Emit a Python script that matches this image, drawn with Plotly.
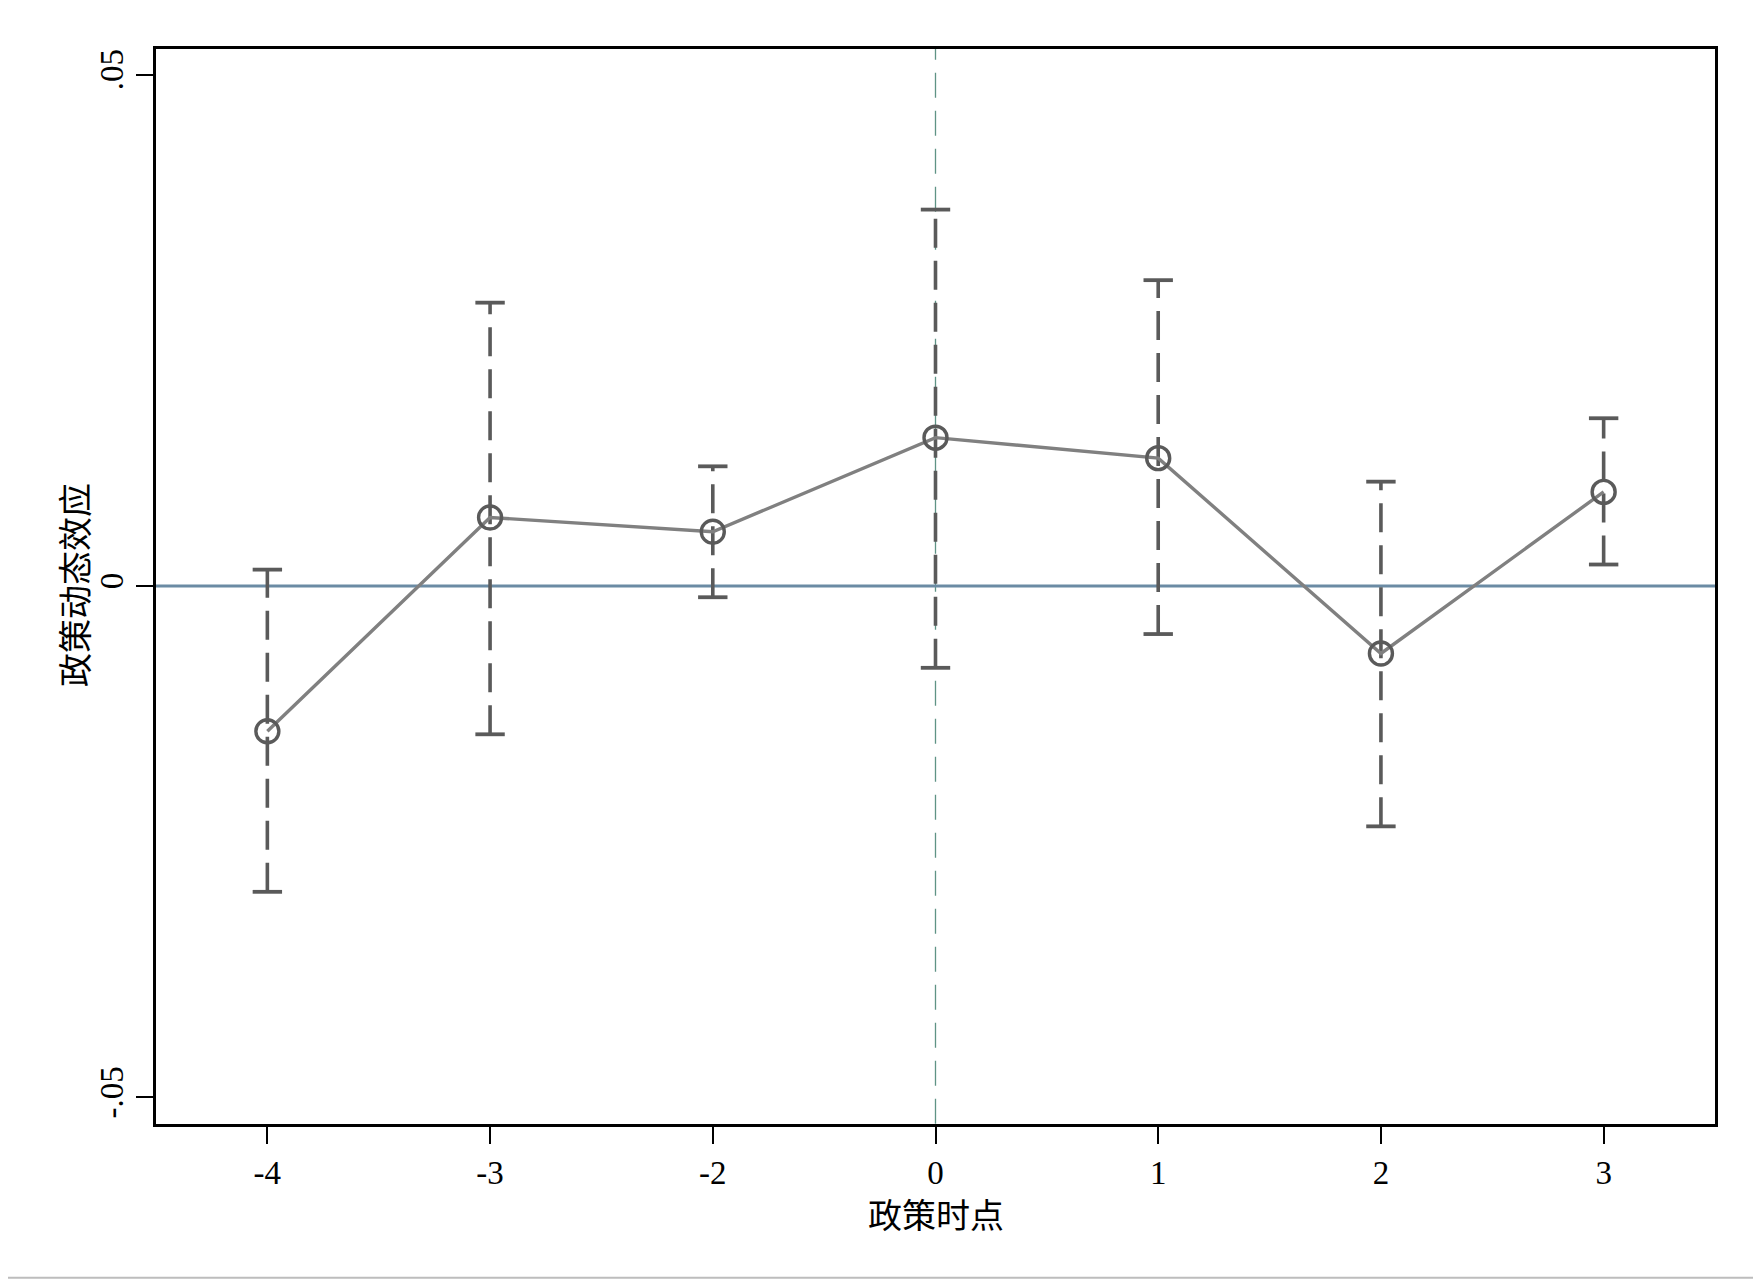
import plotly.graph_objects as go

# ---- data ----
periods = ["-4", "-3", "-2", "0", "1", "2", "3"]
coef = [-0.0142, 0.0067, 0.0053, 0.0145, 0.0125, -0.0066, 0.0092]
ci_upper = [0.0016, 0.0277, 0.0117, 0.0368, 0.0299, 0.0102, 0.0164]
ci_lower = [-0.0299, -0.0145, -0.0011, -0.0080, -0.0047, -0.0235, 0.0021]
y_ticks = [-0.05, 0, 0.05]
y_ticklabels = ["-.05", "0", ".05"]
x_title = "政策时点"
y_title = "政策动态效应"
event_period = "0"

idx = list(range(len(periods)))

# dashed CI segments
seg_x, seg_y = [], []
for i, lo, hi in zip(idx, ci_lower, ci_upper):
    seg_x += [i, i, None]
    seg_y += [lo, hi, None]

EB = "#5a5a5a"
W, H = 1761, 1281
ML, MR, MT, MB = 148, 54, 41, 165
PW, PH = W - ML - MR, H - MT - MB

fig = go.Figure()

# vertical event line
ev = periods.index(event_period)
fig.add_trace(go.Scatter(x=[ev, ev], y=[-0.06, 0.06], mode="lines",
                         line=dict(color="#5f9385", width=1.3, dash="25px,13px"),
                         hoverinfo="skip", showlegend=False))
# zero line
fig.add_trace(go.Scatter(x=[-0.6, len(periods) - 0.4], y=[0, 0], mode="lines",
                         line=dict(color="#6b8ba4", width=3.2),
                         hoverinfo="skip", showlegend=False))
# CI dashed bars
fig.add_trace(go.Scatter(x=seg_x, y=seg_y, mode="lines",
                         line=dict(color=EB, width=3.6, dash="29px,13px"),
                         hoverinfo="skip", showlegend=False))
# caps
fig.add_trace(go.Scatter(x=idx + idx, y=ci_upper + ci_lower, mode="markers",
                         marker=dict(symbol="line-ew", size=21,
                                     line=dict(color=EB, width=3.8)),
                         hoverinfo="skip", showlegend=False))
# point estimates
fig.add_trace(go.Scatter(x=idx, y=coef, mode="lines+markers",
                         line=dict(color="#808080", width=3.4),
                         marker=dict(symbol="circle-open", size=23,
                                     color=EB, line=dict(color=EB, width=3.4)),
                         showlegend=False))

fig.add_shape(type="line", xref="paper", yref="paper", x0=-0.12, x1=1.05,
              y0=-0.143, y1=-0.143, line=dict(color="#bdbdbd", width=2))

# axis titles as annotations (precise placement)
fig.add_annotation(text=x_title, xref="paper", yref="paper",
                   x=0.5, y=-(1205 - (H - MB)) / PH,
                   xanchor="center", yanchor="middle", showarrow=False,
                   font=dict(family="Noto Sans CJK SC", size=34, color="black"))
fig.add_annotation(text=y_title, xref="paper", yref="paper",
                   x=(65 - ML) / PW, y=(H - MB - 577) / PH,
                   xanchor="center", yanchor="middle", textangle=-90,
                   showarrow=False,
                   font=dict(family="Noto Sans CJK SC", size=34, color="black"))

fig.update_layout(
    width=W, height=H,
    margin=dict(l=ML, r=MR, t=MT, b=MB),
    paper_bgcolor="white", plot_bgcolor="white",
    font=dict(family="Liberation Serif", color="black"),
    xaxis=dict(
        range=[-0.5, len(periods) - 0.5],
        tickmode="array", tickvals=idx, ticktext=periods,
        ticks="outside", ticklen=17, tickwidth=2, tickcolor="black",
        showline=True, linecolor="black", linewidth=3, mirror=True,
        showgrid=False, zeroline=False,
        tickfont=dict(family="Liberation Serif", size=33),
    ),
    yaxis=dict(
        range=[-0.0526, 0.0525],
        tickmode="array", tickvals=y_ticks, ticktext=y_ticklabels,
        tickangle=-90,
        ticks="outside", ticklen=17, tickwidth=2, tickcolor="black",
        showline=True, linecolor="black", linewidth=3, mirror=True,
        showgrid=False, zeroline=False,
        tickfont=dict(family="Liberation Serif", size=33),
    ),
)

fig.write_html("out.html")
